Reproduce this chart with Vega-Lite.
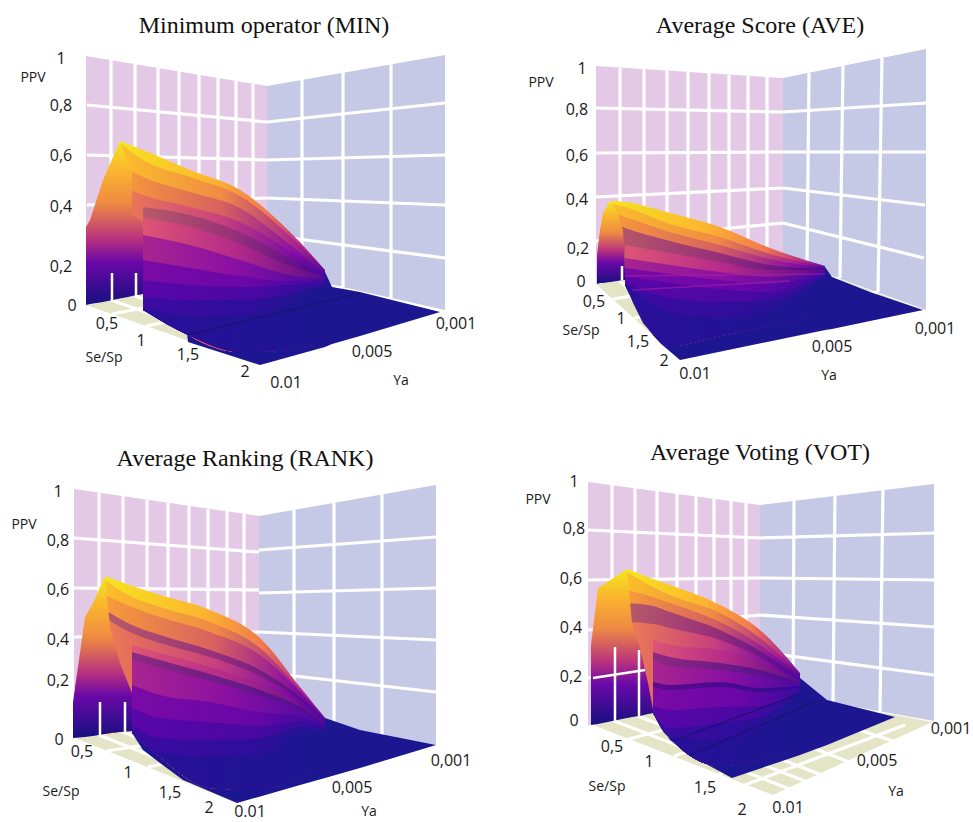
{"$schema":"https://vega.github.io/schema/vega-lite/v6.json","width":973,"height":822,"padding":0,"autosize":{"type":"fit","contains":"padding"},"background":"white","config":{"view":{"stroke":null}},
"datasets":{
"walls":[
{"s":"MIN-L","part":"pink","x":86,"y":56,"y2":305},{"s":"MIN-L","part":"pink","x":267,"y":86,"y2":270},
{"s":"MIN-R","part":"blue","x":267,"y":86,"y2":270},{"s":"MIN-R","part":"blue","x":445,"y":55,"y2":310},
{"s":"MIN-F","part":"floor","x":86,"y":305,"y2":305},{"s":"MIN-F","part":"floor","x":258,"y":272,"y2":365},{"s":"MIN-F","part":"floor","x":267,"y":270,"y2":363},{"s":"MIN-F","part":"floor","x":440,"y":312,"y2":312},
{"s":"AVE-L","part":"pink","x":596,"y":66,"y2":284},{"s":"AVE-L","part":"pink","x":783,"y":78,"y2":258},
{"s":"AVE-R","part":"blue","x":783,"y":78,"y2":258},{"s":"AVE-R","part":"blue","x":926,"y":49,"y2":310},
{"s":"AVE-F","part":"floor","x":596,"y":284,"y2":284},{"s":"AVE-F","part":"floor","x":680,"y":272,"y2":360},{"s":"AVE-F","part":"floor","x":783,"y":258,"y2":339},{"s":"AVE-F","part":"floor","x":923,"y":310,"y2":310},
{"s":"RANK-L","part":"pink","x":74,"y":489,"y2":738},{"s":"RANK-L","part":"pink","x":259,"y":516,"y2":715},
{"s":"RANK-R","part":"blue","x":259,"y":516,"y2":715},{"s":"RANK-R","part":"blue","x":436,"y":485,"y2":745},
{"s":"RANK-F","part":"floor","x":75,"y":738,"y2":738},{"s":"RANK-F","part":"floor","x":237,"y":718,"y2":803},{"s":"RANK-F","part":"floor","x":259,"y":715,"y2":797},{"s":"RANK-F","part":"floor","x":436,"y":745,"y2":745},
{"s":"VOT-L","part":"pink","x":588,"y":482,"y2":725},{"s":"VOT-L","part":"pink","x":760,"y":505,"y2":690},
{"s":"VOT-R","part":"blue","x":760,"y":505,"y2":690},{"s":"VOT-R","part":"blue","x":934,"y":484,"y2":721},
{"s":"VOT-F","part":"floor","x":593,"y":725,"y2":725},{"s":"VOT-F","part":"floor","x":760,"y":690,"y2":790},{"s":"VOT-F","part":"floor","x":773,"y":692,"y2":795},{"s":"VOT-F","part":"floor","x":932,"y":722,"y2":722}
],
"grid":[
{"x":87,"y":105,"x2":267,"y2":122},{"x":87,"y":155,"x2":267,"y2":160},{"x":87,"y":205,"x2":267,"y2":198},{"x":87,"y":255,"x2":267,"y2":235},
{"x":267,"y":122,"x2":445,"y2":103},{"x":267,"y":160,"x2":445,"y2":155},{"x":267,"y":198,"x2":445,"y2":205},{"x":267,"y":235,"x2":445,"y2":258},
{"x":111,"y":60,"x2":111,"y2":300},{"x":135,"y":64,"x2":135,"y2":296},{"x":158,"y":68,"x2":158,"y2":291},{"x":179,"y":71,"x2":179,"y2":287},{"x":199,"y":74,"x2":199,"y2":283},{"x":218,"y":78,"x2":218,"y2":280},{"x":236,"y":81,"x2":236,"y2":276},{"x":253,"y":84,"x2":253,"y2":273},
{"x":302,"y":79,"x2":302,"y2":278},{"x":343,"y":72,"x2":343,"y2":287},{"x":391,"y":64,"x2":391,"y2":298},
{"x":111,"y":300,"x2":283,"y2":360},{"x":135,"y":296,"x2":307,"y2":356},{"x":158,"y":291,"x2":330,"y2":351},
{"x":112,"y":314,"x2":302,"y2":278},{"x":146,"y":326,"x2":343,"y2":287},{"x":193,"y":342,"x2":391,"y2":298},
{"x":596,"y":108,"x2":783,"y2":112},{"x":596,"y":153,"x2":783,"y2":152},{"x":596,"y":197,"x2":783,"y2":188},{"x":596,"y":241,"x2":783,"y2":223},
{"x":783,"y":112,"x2":927,"y2":103},{"x":783,"y":152,"x2":926,"y2":152},{"x":783,"y":188,"x2":925,"y2":205},{"x":783,"y":223,"x2":924,"y2":258},
{"x":620,"y":68,"x2":620,"y2":281},{"x":644,"y":69,"x2":644,"y2":277},{"x":667,"y":71,"x2":667,"y2":274},{"x":688,"y":72,"x2":688,"y2":271},{"x":709,"y":73,"x2":709,"y2":268},{"x":729,"y":75,"x2":729,"y2":266},{"x":748,"y":76,"x2":748,"y2":263},{"x":767,"y":77,"x2":767,"y2":260},
{"x":809,"y":73,"x2":807,"y2":267},{"x":843,"y":66,"x2":840,"y2":278},{"x":882,"y":58,"x2":878,"y2":292},
{"x":620,"y":281,"x2":704,"y2":357},{"x":644,"y":277,"x2":728,"y2":353},
{"x":613,"y":299,"x2":807,"y2":267},{"x":634,"y":318,"x2":840,"y2":278},{"x":655,"y":337,"x2":878,"y2":292},
{"x":74,"y":538,"x2":259,"y2":552},{"x":74,"y":588,"x2":259,"y2":590},{"x":74,"y":637,"x2":259,"y2":632},{"x":74,"y":690,"x2":259,"y2":672},
{"x":259,"y":550,"x2":436,"y2":537},{"x":259,"y":593,"x2":436,"y2":588},{"x":259,"y":632,"x2":436,"y2":640},{"x":259,"y":672,"x2":436,"y2":692},
{"x":99,"y":493,"x2":99,"y2":735},{"x":123,"y":496,"x2":123,"y2":732},{"x":147,"y":500,"x2":147,"y2":729},{"x":168,"y":503,"x2":168,"y2":726},{"x":189,"y":506,"x2":189,"y2":724},{"x":208,"y":509,"x2":208,"y2":721},{"x":227,"y":511,"x2":227,"y2":719},{"x":244,"y":514,"x2":244,"y2":717},
{"x":294,"y":510,"x2":294,"y2":721},{"x":334,"y":503,"x2":334,"y2":728},{"x":382,"y":494,"x2":382,"y2":736},
{"x":99,"y":735,"x2":262,"y2":800},{"x":123,"y":732,"x2":286,"y2":797},
{"x":107,"y":751,"x2":294,"y2":721},{"x":148,"y":767,"x2":334,"y2":728},{"x":189,"y":783,"x2":382,"y2":736},
{"x":588,"y":530,"x2":760,"y2":538},{"x":588,"y":580,"x2":760,"y2":578},{"x":588,"y":630,"x2":760,"y2":615},{"x":588,"y":678,"x2":760,"y2":652},
{"x":760,"y":538,"x2":936,"y2":533},{"x":760,"y":578,"x2":936,"y2":580},{"x":760,"y":615,"x2":935,"y2":627},{"x":760,"y":652,"x2":934,"y2":675},
{"x":612,"y":485,"x2":612,"y2":720},{"x":635,"y":488,"x2":635,"y2":715},{"x":657,"y":491,"x2":657,"y2":711},{"x":677,"y":494,"x2":677,"y2":707},{"x":696,"y":496,"x2":696,"y2":703},{"x":714,"y":499,"x2":714,"y2":700},{"x":731,"y":501,"x2":731,"y2":696},{"x":746,"y":503,"x2":746,"y2":693},
{"x":794,"y":499,"x2":793,"y2":696},{"x":835,"y":492,"x2":833,"y2":703},{"x":883,"y":486,"x2":880,"y2":712},
{"x":612,"y":720,"x2":792,"y2":790},{"x":635,"y":715,"x2":815,"y2":785},{"x":657,"y":711,"x2":837,"y2":781},{"x":696,"y":703,"x2":870,"y2":770},{"x":746,"y":693,"x2":905,"y2":745},
{"x":629,"y":739,"x2":792,"y2":696},{"x":674,"y":756,"x2":833,"y2":703},{"x":719,"y":774,"x2":880,"y2":712},{"x":745,"y":785,"x2":905,"y2":725}
],
"navy":[
{"s":"MIN","x":143,"y":160,"y2":310},{"s":"MIN","x":163,"y":165,"y2":317},{"s":"MIN","x":187,"y":175,"y2":333},{"s":"MIN","x":188,"y":175,"y2":342},{"s":"MIN","x":260,"y":210,"y2":365},{"s":"MIN","x":325,"y":272,"y2":347},{"s":"MIN","x":332,"y":287,"y2":344},{"s":"MIN","x":360,"y":292,"y2":336},{"s":"MIN","x":440,"y":312,"y2":312},
{"s":"AVE","x":625,"y":210,"y2":285},{"s":"AVE","x":628,"y":212,"y2":290},{"s":"AVE","x":633,"y":214,"y2":303},{"s":"AVE","x":643,"y":216,"y2":323},{"s":"AVE","x":660,"y":218,"y2":343},{"s":"AVE","x":680,"y":222,"y2":360},{"s":"AVE","x":825,"y":267,"y2":330},{"s":"AVE","x":832,"y":277,"y2":329},{"s":"AVE","x":870,"y":292,"y2":321},{"s":"AVE","x":923,"y":310,"y2":310},
{"s":"RANK","x":132,"y":590,"y2":733},{"s":"RANK","x":143,"y":600,"y2":750},{"s":"RANK","x":160,"y":600,"y2":763},{"s":"RANK","x":183,"y":610,"y2":780},{"s":"RANK","x":237,"y":635,"y2":803},{"s":"RANK","x":300,"y":690,"y2":785},{"s":"RANK","x":325,"y":718,"y2":778},{"s":"RANK","x":360,"y":730,"y2":768},{"s":"RANK","x":436,"y":745,"y2":745},
{"s":"VOT","x":653,"y":590,"y2":713},{"s":"VOT","x":657,"y":590,"y2":720},{"s":"VOT","x":670,"y":590,"y2":740},{"s":"VOT","x":693,"y":595,"y2":757},{"s":"VOT","x":732,"y":612,"y2":778},{"s":"VOT","x":800,"y":678,"y2":755},{"s":"VOT","x":827,"y":700,"y2":745},{"s":"VOT","x":895,"y":717,"y2":717}
],
"faces":[
{"s":"MIN","x":86,"y":227,"y2":305},{"s":"MIN","x":90,"y":220,"y2":304},{"s":"MIN","x":103,"y":180,"y2":302},{"s":"MIN","x":120,"y":141,"y2":298.5},{"s":"MIN","x":128,"y":165,"y2":297},{"s":"MIN","x":132,"y":165,"y2":296},{"s":"MIN","x":132.1,"y":215,"y2":296},{"s":"MIN","x":143,"y":222,"y2":294},
{"s":"AVE","x":597,"y":255,"y2":284},{"s":"AVE","x":600,"y":230,"y2":283},{"s":"AVE","x":603,"y":213,"y2":283},{"s":"AVE","x":610,"y":201,"y2":282},{"s":"AVE","x":617,"y":212,"y2":281},{"s":"AVE","x":623,"y":230,"y2":280},{"s":"AVE","x":625,"y":272,"y2":280},
{"s":"RANK","x":73,"y":702,"y2":738},{"s":"RANK","x":85,"y":617,"y2":737},{"s":"RANK","x":93,"y":603,"y2":736},{"s":"RANK","x":105,"y":576,"y2":734},{"s":"RANK","x":110,"y":627,"y2":733},{"s":"RANK","x":120,"y":663,"y2":732},{"s":"RANK","x":132,"y":693,"y2":731},
{"s":"VOT","x":591,"y":645,"y2":725},{"s":"VOT","x":598,"y":588,"y2":724},{"s":"VOT","x":627,"y":569,"y2":718},{"s":"VOT","x":632,"y":623,"y2":717},{"s":"VOT","x":640,"y":647,"y2":716},{"s":"VOT","x":648,"y":683,"y2":714},{"s":"VOT","x":653,"y":710,"y2":713}
],
"bands":[
{"s":"M1","c":"a","x":120,"y":141,"y2":298},{"s":"M1","c":"a","x":143,"y":150,"y2":294},{"s":"M1","c":"a","x":190,"y":170,"y2":336},{"s":"M1","c":"a","x":240,"y":190,"y2":352},{"s":"M1","c":"a","x":290,"y":232,"y2":350},{"s":"M1","c":"a","x":325,"y":270,"y2":340},
{"s":"M2","c":"b","x":120,"y":143,"y2":298},{"s":"M2","c":"b","x":143,"y":160,"y2":294},{"s":"M2","c":"b","x":190,"y":177,"y2":336},{"s":"M2","c":"b","x":240,"y":196,"y2":352},{"s":"M2","c":"b","x":290,"y":236,"y2":350},{"s":"M2","c":"b","x":325,"y":271,"y2":340},
{"s":"M3","c":"c","x":120,"y":165,"y2":298},{"s":"M3","c":"c","x":143,"y":177,"y2":294},{"s":"M3","c":"c","x":190,"y":192,"y2":336},{"s":"M3","c":"c","x":240,"y":208,"y2":352},{"s":"M3","c":"c","x":290,"y":245,"y2":350},{"s":"M3","c":"c","x":325,"y":273,"y2":340},
{"s":"M4","c":"d","x":120,"y":185,"y2":298},{"s":"M4","c":"d","x":143,"y":195,"y2":294},{"s":"M4","c":"d","x":190,"y":207,"y2":336},{"s":"M4","c":"d","x":240,"y":222,"y2":352},{"s":"M4","c":"d","x":290,"y":251,"y2":350},{"s":"M4","c":"d","x":325,"y":274,"y2":340},
{"s":"M5","c":"E","x":143,"y":207,"y2":310},{"s":"M5","c":"E","x":190,"y":215,"y2":336},{"s":"M5","c":"E","x":240,"y":232,"y2":352},{"s":"M5","c":"E","x":290,"y":258,"y2":350},{"s":"M5","c":"E","x":325,"y":275,"y2":340},
{"s":"M6","c":"f","x":143,"y":217,"y2":310},{"s":"M6","c":"f","x":190,"y":227,"y2":336},{"s":"M6","c":"f","x":240,"y":244,"y2":352},{"s":"M6","c":"f","x":290,"y":266,"y2":350},{"s":"M6","c":"f","x":325,"y":277,"y2":340},
{"s":"M7","c":"g","x":143,"y":235,"y2":310},{"s":"M7","c":"g","x":190,"y":245,"y2":336},{"s":"M7","c":"g","x":240,"y":260,"y2":352},{"s":"M7","c":"g","x":290,"y":275,"y2":350},{"s":"M7","c":"g","x":325,"y":279,"y2":340},
{"s":"M8","c":"h","x":143,"y":260,"y2":310},{"s":"M8","c":"h","x":190,"y":268,"y2":336},{"s":"M8","c":"h","x":240,"y":276,"y2":352},{"s":"M8","c":"h","x":290,"y":281,"y2":350},{"s":"M8","c":"h","x":325,"y":281,"y2":340},
{"s":"M9","c":"i","x":143,"y":280,"y2":310},{"s":"M9","c":"i","x":190,"y":285,"y2":336},{"s":"M9","c":"i","x":240,"y":287,"y2":352},{"s":"M9","c":"i","x":290,"y":285,"y2":350},{"s":"M9","c":"i","x":325,"y":283,"y2":340},
{"s":"M10","c":"j","x":143,"y":297,"y2":310},{"s":"M10","c":"j","x":190,"y":300,"y2":336},{"s":"M10","c":"j","x":240,"y":300,"y2":352},{"s":"M10","c":"j","x":290,"y":294,"y2":350},{"s":"M10","c":"j","x":325,"y":285,"y2":340},
{"s":"M11","c":"k","x":143,"y":307,"y2":310},{"s":"M11","c":"k","x":190,"y":316,"y2":336},{"s":"M11","c":"k","x":240,"y":316,"y2":352},{"s":"M11","c":"k","x":290,"y":304,"y2":350},{"s":"M11","c":"k","x":325,"y":287,"y2":340},

{"s":"A1","c":"a","x":610,"y":201,"y2":282},{"s":"A1","c":"a","x":625,"y":202,"y2":278},{"s":"A1","c":"a","x":670,"y":213,"y2":346},{"s":"A1","c":"a","x":720,"y":227,"y2":336},{"s":"A1","c":"a","x":770,"y":248,"y2":326},{"s":"A1","c":"a","x":825,"y":266,"y2":314},
{"s":"A2","c":"b","x":610,"y":203,"y2":282},{"s":"A2","c":"b","x":625,"y":207,"y2":278},{"s":"A2","c":"b","x":670,"y":224,"y2":346},{"s":"A2","c":"b","x":720,"y":237,"y2":336},{"s":"A2","c":"b","x":770,"y":254,"y2":326},{"s":"A2","c":"b","x":825,"y":267,"y2":314},
{"s":"A3","c":"c","x":610,"y":212,"y2":282},{"s":"A3","c":"c","x":625,"y":217,"y2":278},{"s":"A3","c":"c","x":670,"y":232,"y2":346},{"s":"A3","c":"c","x":720,"y":245,"y2":336},{"s":"A3","c":"c","x":770,"y":259,"y2":326},{"s":"A3","c":"c","x":825,"y":268,"y2":314},
{"s":"A4","c":"e","x":610,"y":222,"y2":282},{"s":"A4","c":"e","x":625,"y":228,"y2":278},{"s":"A4","c":"e","x":670,"y":241,"y2":346},{"s":"A4","c":"e","x":720,"y":253,"y2":336},{"s":"A4","c":"e","x":770,"y":265,"y2":326},{"s":"A4","c":"e","x":825,"y":269,"y2":314},
{"s":"A5","c":"f","x":625,"y":245,"y2":285},{"s":"A5","c":"f","x":670,"y":253,"y2":346},{"s":"A5","c":"f","x":720,"y":262,"y2":336},{"s":"A5","c":"f","x":770,"y":270,"y2":326},{"s":"A5","c":"f","x":825,"y":270,"y2":314},
{"s":"A6","c":"g","x":625,"y":258,"y2":285},{"s":"A6","c":"g","x":670,"y":265,"y2":346},{"s":"A6","c":"g","x":720,"y":272,"y2":336},{"s":"A6","c":"g","x":770,"y":277,"y2":326},{"s":"A6","c":"g","x":825,"y":271,"y2":314},
{"s":"A7","c":"h","x":625,"y":268,"y2":285},{"s":"A7","c":"h","x":670,"y":274,"y2":346},{"s":"A7","c":"h","x":720,"y":280,"y2":336},{"s":"A7","c":"h","x":770,"y":284,"y2":326},{"s":"A7","c":"h","x":825,"y":272,"y2":314},
{"s":"A8","c":"i","x":625,"y":276,"y2":285},{"s":"A8","c":"i","x":670,"y":283,"y2":346},{"s":"A8","c":"i","x":720,"y":289,"y2":336},{"s":"A8","c":"i","x":770,"y":292,"y2":326},{"s":"A8","c":"i","x":825,"y":274,"y2":314},
{"s":"A9","c":"j","x":625,"y":282,"y2":285},{"s":"A9","c":"j","x":670,"y":298,"y2":346},{"s":"A9","c":"j","x":720,"y":302,"y2":336},{"s":"A9","c":"j","x":770,"y":300,"y2":326},{"s":"A9","c":"j","x":825,"y":276,"y2":314},
{"s":"A10","c":"k","x":625,"y":284,"y2":285},{"s":"A10","c":"k","x":670,"y":312,"y2":346},{"s":"A10","c":"k","x":720,"y":318,"y2":336},{"s":"A10","c":"k","x":770,"y":310,"y2":326},{"s":"A10","c":"k","x":825,"y":278,"y2":314},

{"s":"R1","c":"a","x":105,"y":576,"y2":734},{"s":"R1","c":"a","x":132,"y":586,"y2":731},{"s":"R1","c":"a","x":160,"y":595,"y2":757},{"s":"R1","c":"a","x":210,"y":610,"y2":788},{"s":"R1","c":"a","x":260,"y":638,"y2":790},{"s":"R1","c":"a","x":300,"y":687,"y2":778},{"s":"R1","c":"a","x":325,"y":718,"y2":770},
{"s":"R2","c":"b","x":105,"y":580,"y2":734},{"s":"R2","c":"b","x":132,"y":597,"y2":731},{"s":"R2","c":"b","x":160,"y":607,"y2":757},{"s":"R2","c":"b","x":210,"y":622,"y2":788},{"s":"R2","c":"b","x":260,"y":648,"y2":790},{"s":"R2","c":"b","x":300,"y":690,"y2":778},{"s":"R2","c":"b","x":325,"y":719,"y2":770},
{"s":"R3","c":"c","x":105,"y":595,"y2":734},{"s":"R3","c":"c","x":132,"y":607,"y2":731},{"s":"R3","c":"c","x":160,"y":617,"y2":757},{"s":"R3","c":"c","x":210,"y":632,"y2":788},{"s":"R3","c":"c","x":260,"y":655,"y2":790},{"s":"R3","c":"c","x":300,"y":692,"y2":778},{"s":"R3","c":"c","x":325,"y":720,"y2":770},
{"s":"R4","c":"e","x":105,"y":610,"y2":734},{"s":"R4","c":"e","x":132,"y":625,"y2":731},{"s":"R4","c":"e","x":160,"y":635,"y2":757},{"s":"R4","c":"e","x":210,"y":650,"y2":788},{"s":"R4","c":"e","x":260,"y":670,"y2":790},{"s":"R4","c":"e","x":300,"y":697,"y2":778},{"s":"R4","c":"e","x":325,"y":721,"y2":770},
{"s":"R5","c":"d","x":105,"y":618,"y2":734},{"s":"R5","c":"d","x":132,"y":633,"y2":731},{"s":"R5","c":"d","x":160,"y":643,"y2":757},{"s":"R5","c":"d","x":210,"y":657,"y2":788},{"s":"R5","c":"d","x":260,"y":676,"y2":790},{"s":"R5","c":"d","x":300,"y":700,"y2":778},{"s":"R5","c":"d","x":325,"y":722,"y2":770},
{"s":"R6","c":"f","x":132,"y":645,"y2":733},{"s":"R6","c":"f","x":160,"y":653,"y2":757},{"s":"R6","c":"f","x":210,"y":667,"y2":788},{"s":"R6","c":"f","x":260,"y":684,"y2":790},{"s":"R6","c":"f","x":300,"y":704,"y2":778},{"s":"R6","c":"f","x":325,"y":723,"y2":770},
{"s":"R7","c":"m","x":132,"y":652,"y2":733},{"s":"R7","c":"m","x":160,"y":660,"y2":757},{"s":"R7","c":"m","x":210,"y":674,"y2":788},{"s":"R7","c":"m","x":260,"y":690,"y2":790},{"s":"R7","c":"m","x":300,"y":707,"y2":778},{"s":"R7","c":"m","x":325,"y":724,"y2":770},
{"s":"R8","c":"g","x":132,"y":660,"y2":733},{"s":"R8","c":"g","x":160,"y":668,"y2":757},{"s":"R8","c":"g","x":210,"y":681,"y2":788},{"s":"R8","c":"g","x":260,"y":696,"y2":790},{"s":"R8","c":"g","x":300,"y":710,"y2":778},{"s":"R8","c":"g","x":325,"y":725,"y2":770},
{"s":"R9","c":"h","x":132,"y":685,"y2":733},{"s":"R9","c":"h","x":160,"y":695,"y2":757},{"s":"R9","c":"h","x":210,"y":702,"y2":788},{"s":"R9","c":"h","x":260,"y":712,"y2":790},{"s":"R9","c":"h","x":300,"y":716,"y2":778},{"s":"R9","c":"h","x":325,"y":727,"y2":770},
{"s":"R10","c":"i","x":132,"y":708,"y2":733},{"s":"R10","c":"i","x":160,"y":718,"y2":757},{"s":"R10","c":"i","x":210,"y":722,"y2":788},{"s":"R10","c":"i","x":260,"y":726,"y2":790},{"s":"R10","c":"i","x":300,"y":722,"y2":778},{"s":"R10","c":"i","x":325,"y":729,"y2":770},
{"s":"R11","c":"j","x":132,"y":725,"y2":733},{"s":"R11","c":"j","x":160,"y":738,"y2":757},{"s":"R11","c":"j","x":210,"y":740,"y2":788},{"s":"R11","c":"j","x":260,"y":738,"y2":790},{"s":"R11","c":"j","x":300,"y":728,"y2":778},{"s":"R11","c":"j","x":325,"y":731,"y2":770},
{"s":"R12","c":"k","x":132,"y":731,"y2":733},{"s":"R12","c":"k","x":160,"y":752,"y2":757},{"s":"R12","c":"k","x":210,"y":757,"y2":788},{"s":"R12","c":"k","x":260,"y":755,"y2":790},{"s":"R12","c":"k","x":300,"y":735,"y2":778},{"s":"R12","c":"k","x":325,"y":733,"y2":770},

{"s":"V1","c":"a","x":627,"y":569,"y2":718},{"s":"V1","c":"a","x":653,"y":579,"y2":713},{"s":"V1","c":"a","x":670,"y":585,"y2":738},{"s":"V1","c":"a","x":720,"y":605,"y2":766},{"s":"V1","c":"a","x":760,"y":630,"y2":760},{"s":"V1","c":"a","x":800,"y":673,"y2":748},
{"s":"V2","c":"b","x":627,"y":572,"y2":718},{"s":"V2","c":"b","x":653,"y":587,"y2":713},{"s":"V2","c":"b","x":670,"y":595,"y2":738},{"s":"V2","c":"b","x":720,"y":613,"y2":766},{"s":"V2","c":"b","x":760,"y":638,"y2":760},{"s":"V2","c":"b","x":800,"y":675,"y2":748},
{"s":"V3","c":"c","x":627,"y":590,"y2":718},{"s":"V3","c":"c","x":653,"y":597,"y2":713},{"s":"V3","c":"c","x":670,"y":603,"y2":738},{"s":"V3","c":"c","x":720,"y":622,"y2":766},{"s":"V3","c":"c","x":760,"y":645,"y2":760},{"s":"V3","c":"c","x":800,"y":677,"y2":748},
{"s":"V4","c":"e","x":627,"y":603,"y2":718},{"s":"V4","c":"e","x":653,"y":606,"y2":713},{"s":"V4","c":"e","x":670,"y":612,"y2":738},{"s":"V4","c":"e","x":720,"y":630,"y2":766},{"s":"V4","c":"e","x":760,"y":651,"y2":760},{"s":"V4","c":"e","x":800,"y":679,"y2":748},
{"s":"V5","c":"d","x":627,"y":622,"y2":718},{"s":"V5","c":"d","x":653,"y":624,"y2":713},{"s":"V5","c":"d","x":670,"y":628,"y2":738},{"s":"V5","c":"d","x":720,"y":640,"y2":766},{"s":"V5","c":"d","x":760,"y":657,"y2":760},{"s":"V5","c":"d","x":800,"y":680,"y2":748},
{"s":"V6","c":"f","x":653,"y":640,"y2":713},{"s":"V6","c":"f","x":670,"y":645,"y2":738},{"s":"V6","c":"f","x":720,"y":650,"y2":766},{"s":"V6","c":"f","x":760,"y":662,"y2":760},{"s":"V6","c":"f","x":800,"y":681,"y2":748},
{"s":"V7","c":"m","x":653,"y":652,"y2":713},{"s":"V7","c":"m","x":670,"y":657,"y2":738},{"s":"V7","c":"m","x":720,"y":663,"y2":766},{"s":"V7","c":"m","x":760,"y":670,"y2":760},{"s":"V7","c":"m","x":800,"y":683,"y2":748},
{"s":"V8","c":"g","x":653,"y":660,"y2":713},{"s":"V8","c":"g","x":670,"y":666,"y2":738},{"s":"V8","c":"g","x":720,"y":670,"y2":766},{"s":"V8","c":"g","x":760,"y":676,"y2":760},{"s":"V8","c":"g","x":800,"y":684,"y2":748},
{"s":"V9","c":"n","x":653,"y":682,"y2":713},{"s":"V9","c":"n","x":670,"y":685,"y2":738},{"s":"V9","c":"n","x":720,"y":682,"y2":766},{"s":"V9","c":"n","x":760,"y":688,"y2":760},{"s":"V9","c":"n","x":800,"y":686,"y2":748},
{"s":"V10","c":"h","x":653,"y":687,"y2":713},{"s":"V10","c":"h","x":670,"y":690,"y2":738},{"s":"V10","c":"h","x":720,"y":687,"y2":766},{"s":"V10","c":"h","x":760,"y":692,"y2":760},{"s":"V10","c":"h","x":800,"y":687,"y2":748},
{"s":"V11","c":"i","x":653,"y":705,"y2":713},{"s":"V11","c":"i","x":670,"y":710,"y2":738},{"s":"V11","c":"i","x":720,"y":707,"y2":766},{"s":"V11","c":"i","x":760,"y":706,"y2":760},{"s":"V11","c":"i","x":800,"y":689,"y2":748},
{"s":"V12","c":"j","x":653,"y":712,"y2":713},{"s":"V12","c":"j","x":670,"y":728,"y2":738},{"s":"V12","c":"j","x":720,"y":723,"y2":766},{"s":"V12","c":"j","x":760,"y":717,"y2":760},{"s":"V12","c":"j","x":800,"y":692,"y2":748},
{"s":"V13","c":"k","x":653,"y":713,"y2":713},{"s":"V13","c":"k","x":670,"y":737,"y2":738},{"s":"V13","c":"k","x":720,"y":740,"y2":766},{"s":"V13","c":"k","x":760,"y":730,"y2":760},{"s":"V13","c":"k","x":800,"y":697,"y2":748}
],
"creases":[
{"x":188,"y":335,"x2":360,"y2":293},{"x":673,"y":741,"x2":800,"y2":694},{"x":690,"y":755,"x2":815,"y2":702}
],
"glints":[
{"x":625,"y":276,"x2":825,"y2":274},{"x":632,"y":290,"x2":790,"y2":281}
],
"gaps":[
{"x":112,"y":273,"x2":112,"y2":302},{"x":136,"y":273,"x2":136,"y2":297},{"x":622,"y":266,"x2":622,"y2":280},{"x":100,"y":702,"x2":100,"y2":736},{"x":125,"y":702,"x2":125,"y2":732},{"x":615,"y":647,"x2":615,"y2":722},{"x":639,"y":650,"x2":639,"y2":716},{"x":593,"y":678,"x2":645,"y2":670}
],
"labels":[
{"t":"1","x":61,"y":59},{"t":"0,8","x":61,"y":106},{"t":"0,6","x":61,"y":156},{"t":"0,4","x":61,"y":207},{"t":"0,2","x":61,"y":267},{"t":"0","x":72,"y":306},{"t":"0,5","x":107,"y":324},{"t":"1","x":141,"y":341},{"t":"1,5","x":188,"y":355},{"t":"2","x":245,"y":372},{"t":"0.01","x":286,"y":383},{"t":"0,005","x":372,"y":352},{"t":"0,001","x":456,"y":324},
{"t":"1","x":582,"y":69},{"t":"0,8","x":577,"y":110},{"t":"0,6","x":577,"y":156},{"t":"0,4","x":577,"y":200},{"t":"0,2","x":578,"y":249},{"t":"0","x":581,"y":282},{"t":"0,5","x":594,"y":302},{"t":"1","x":621,"y":319},{"t":"1,5","x":638,"y":342},{"t":"2","x":664,"y":361},{"t":"0.01","x":695,"y":374},{"t":"0,005","x":832,"y":347},{"t":"0,001","x":935,"y":329},
{"t":"1","x":58,"y":492},{"t":"0,8","x":58,"y":541},{"t":"0,6","x":58,"y":590},{"t":"0,4","x":58,"y":640},{"t":"0,2","x":58,"y":681},{"t":"0","x":59,"y":740},{"t":"0,5","x":82,"y":752},{"t":"1","x":128,"y":773},{"t":"1,5","x":170,"y":793},{"t":"2","x":209,"y":808},{"t":"0.01","x":250,"y":812},{"t":"0,005","x":352,"y":788},{"t":"0,001","x":451,"y":761},
{"t":"1","x":574,"y":482},{"t":"0,8","x":574,"y":529},{"t":"0,6","x":571,"y":579},{"t":"0,4","x":571,"y":628},{"t":"0,2","x":571,"y":677},{"t":"0","x":574,"y":721},{"t":"0,5","x":612,"y":747},{"t":"1","x":649,"y":762},{"t":"1,5","x":705,"y":788},{"t":"2","x":742,"y":810},{"t":"0.01","x":788,"y":808},{"t":"0,005","x":877,"y":761},{"t":"0,001","x":951,"y":729}
],
"names":[
{"t":"PPV","x":33,"y":78},{"t":"Se/Sp","x":104,"y":358},{"t":"Ya","x":401,"y":381},
{"t":"PPV","x":541,"y":83},{"t":"Se/Sp","x":581,"y":331},{"t":"Ya","x":829,"y":376},
{"t":"PPV","x":24,"y":525},{"t":"Se/Sp","x":61,"y":792},{"t":"Ya","x":369,"y":812},
{"t":"PPV","x":538,"y":500},{"t":"Se/Sp","x":607,"y":787},{"t":"Ya","x":896,"y":792}
],
"titles":[
{"t":"Minimum operator (MIN)","x":264,"y":26},{"t":"Average Score (AVE)","x":760,"y":26},{"t":"Average Ranking (RANK)","x":245,"y":459},{"t":"Average Voting (VOT)","x":760,"y":453}
]
},
"encoding":{
"x":{"field":"x","type":"quantitative","scale":{"domain":[0,973],"nice":false,"zero":false},"axis":null},
"y":{"field":"y","type":"quantitative","scale":{"domain":[822,0],"nice":false,"zero":false},"axis":null,"stack":null}
},
"layer":[
{"data":{"name":"walls"},"mark":{"type":"area","orient":"vertical"},"encoding":{"y2":{"field":"y2"},"detail":{"field":"s"},"color":{"field":"part","type":"nominal","legend":null,"scale":{"domain":["pink","blue","floor"],"range":["#e4c9e6","#c6c9e6","#e4e5c6"]}}}},
{"data":{"name":"grid"},"mark":{"type":"rule","color":"white","strokeWidth":3.2},"encoding":{"x2":{"field":"x2"},"y2":{"field":"y2"}}},
{"data":{"name":"navy"},"mark":{"type":"area","orient":"vertical","color":"#1c1690"},"encoding":{"y2":{"field":"y2"},"detail":{"field":"s"}}},
{"data":{"name":"bands"},"transform":[{"filter":"datum.c==='a'"}],"mark":{"type":"area","orient":"vertical","interpolate":"monotone","color":{"gradient":"linear","x1":0,"y1":0,"x2":1,"y2":0,"stops":[{"offset":0,"color":"#f4e41e"},{"offset":0.45,"color":"#fdb42f"},{"offset":0.72,"color":"#f0784f"},{"offset":0.9,"color":"#b52a8a"},{"offset":1,"color":"#6a06a8"}]}},"encoding":{"y2":{"field":"y2"},"detail":{"field":"s"}}},
{"data":{"name":"bands"},"transform":[{"filter":"datum.c==='b'"}],"mark":{"type":"area","orient":"vertical","interpolate":"monotone","color":{"gradient":"linear","x1":0,"y1":0,"x2":1,"y2":0,"stops":[{"offset":0,"color":"#fbbf2a"},{"offset":0.5,"color":"#f08a45"},{"offset":0.85,"color":"#a8258f"},{"offset":1,"color":"#5a0b8c"}]}},"encoding":{"y2":{"field":"y2"},"detail":{"field":"s"}}},
{"data":{"name":"bands"},"transform":[{"filter":"datum.c==='c'"}],"mark":{"type":"area","orient":"vertical","interpolate":"monotone","color":{"gradient":"linear","x1":0,"y1":0,"x2":1,"y2":0,"stops":[{"offset":0,"color":"#f89c3a"},{"offset":0.5,"color":"#d8605f"},{"offset":0.85,"color":"#8a10a2"},{"offset":1,"color":"#4a08a2"}]}},"encoding":{"y2":{"field":"y2"},"detail":{"field":"s"}}},
{"data":{"name":"bands"},"transform":[{"filter":"datum.c==='e'"}],"mark":{"type":"area","orient":"vertical","interpolate":"monotone","color":{"gradient":"linear","x1":0,"y1":0,"x2":1,"y2":0,"stops":[{"offset":0,"color":"#b85a68"},{"offset":0.5,"color":"#98307a"},{"offset":0.9,"color":"#5a0b8c"},{"offset":1,"color":"#4a08a2"}]}},"encoding":{"y2":{"field":"y2"},"detail":{"field":"s"}}},
{"data":{"name":"bands"},"transform":[{"filter":"datum.c==='d'"}],"mark":{"type":"area","orient":"vertical","interpolate":"monotone","color":{"gradient":"linear","x1":0,"y1":0,"x2":1,"y2":0,"stops":[{"offset":0,"color":"#ec7d52"},{"offset":0.5,"color":"#c8407e"},{"offset":0.85,"color":"#7a0aa5"},{"offset":1,"color":"#4a08a2"}]}},"encoding":{"y2":{"field":"y2"},"detail":{"field":"s"}}},
{"data":{"name":"bands"},"transform":[{"filter":"datum.c==='E'"}],"mark":{"type":"area","orient":"vertical","interpolate":"monotone","color":{"gradient":"linear","x1":0,"y1":0,"x2":1,"y2":0,"stops":[{"offset":0,"color":"#b85a68"},{"offset":0.5,"color":"#98307a"},{"offset":0.9,"color":"#5a0b8c"},{"offset":1,"color":"#4a08a2"}]}},"encoding":{"y2":{"field":"y2"},"detail":{"field":"s"}}},
{"data":{"name":"bands"},"transform":[{"filter":"datum.c==='f'"}],"mark":{"type":"area","orient":"vertical","interpolate":"monotone","color":{"gradient":"linear","x1":0,"y1":0,"x2":1,"y2":0,"stops":[{"offset":0,"color":"#dd5575"},{"offset":0.5,"color":"#b52a8a"},{"offset":1,"color":"#5a0b8c"}]}},"encoding":{"y2":{"field":"y2"},"detail":{"field":"s"}}},
{"data":{"name":"bands"},"transform":[{"filter":"datum.c==='m'"}],"mark":{"type":"area","orient":"vertical","interpolate":"monotone","color":{"gradient":"linear","x1":0,"y1":0,"x2":1,"y2":0,"stops":[{"offset":0,"color":"#8e2a80"},{"offset":1,"color":"#4a0a90"}]}},"encoding":{"y2":{"field":"y2"},"detail":{"field":"s"}}},
{"data":{"name":"bands"},"transform":[{"filter":"datum.c==='g'"}],"mark":{"type":"area","orient":"vertical","interpolate":"monotone","color":{"gradient":"linear","x1":0,"y1":0,"x2":1,"y2":0,"stops":[{"offset":0,"color":"#a8258f"},{"offset":0.5,"color":"#8a10a2"},{"offset":1,"color":"#4a08a2"}]}},"encoding":{"y2":{"field":"y2"},"detail":{"field":"s"}}},
{"data":{"name":"bands"},"transform":[{"filter":"datum.c==='n'"}],"mark":{"type":"area","orient":"vertical","interpolate":"monotone","color":{"gradient":"linear","x1":0,"y1":0,"x2":1,"y2":0,"stops":[{"offset":0,"color":"#5e0b8c"},{"offset":1,"color":"#300a90"}]}},"encoding":{"y2":{"field":"y2"},"detail":{"field":"s"}}},
{"data":{"name":"bands"},"transform":[{"filter":"datum.c==='h'"}],"mark":{"type":"area","orient":"vertical","interpolate":"monotone","color":{"gradient":"linear","x1":0,"y1":0,"x2":1,"y2":0,"stops":[{"offset":0,"color":"#7a0aa5"},{"offset":0.6,"color":"#6a06a8"},{"offset":1,"color":"#3a0a9e"}]}},"encoding":{"y2":{"field":"y2"},"detail":{"field":"s"}}},
{"data":{"name":"bands"},"transform":[{"filter":"datum.c==='i'"}],"mark":{"type":"area","orient":"vertical","interpolate":"monotone","color":{"gradient":"linear","x1":0,"y1":0,"x2":1,"y2":0,"stops":[{"offset":0,"color":"#5a06a8"},{"offset":0.6,"color":"#4a08a2"},{"offset":1,"color":"#2e0e9a"}]}},"encoding":{"y2":{"field":"y2"},"detail":{"field":"s"}}},
{"data":{"name":"bands"},"transform":[{"filter":"datum.c==='j'"}],"mark":{"type":"area","orient":"vertical","interpolate":"monotone","color":{"gradient":"linear","x1":0,"y1":0,"x2":1,"y2":0,"stops":[{"offset":0,"color":"#3e0aa2"},{"offset":0.6,"color":"#2e0e9a"},{"offset":1,"color":"#1e1690"}]}},"encoding":{"y2":{"field":"y2"},"detail":{"field":"s"}}},
{"data":{"name":"bands"},"transform":[{"filter":"datum.c==='k'"}],"mark":{"type":"area","orient":"vertical","interpolate":"monotone","color":{"gradient":"linear","x1":0,"y1":0,"x2":1,"y2":0,"stops":[{"offset":0,"color":"#2a0f9a"},{"offset":1,"color":"#1c1690"}]}},"encoding":{"y2":{"field":"y2"},"detail":{"field":"s"}}},
{"data":{"name":"faces"},"mark":{"type":"area","orient":"vertical","color":{"gradient":"linear","x1":0,"y1":0,"x2":0,"y2":1,"stops":[{"offset":0,"color":"#f0e81c"},{"offset":0.18,"color":"#fbb52e"},{"offset":0.38,"color":"#ee8a42"},{"offset":0.6,"color":"#b8307f"},{"offset":0.74,"color":"#6a08a8"},{"offset":1,"color":"#16107f"}]}},"encoding":{"y2":{"field":"y2"},"detail":{"field":"s"}}},
{"data":{"name":"creases"},"mark":{"type":"rule","color":"#17126e","strokeWidth":1.5,"opacity":0.7},"encoding":{"x2":{"field":"x2"},"y2":{"field":"y2"}}},
{"data":{"name":"glints"},"mark":{"type":"rule","color":"#a81fa8","strokeWidth":1.5,"opacity":0.6},"encoding":{"x2":{"field":"x2"},"y2":{"field":"y2"}}},
{"data":{"name":"gaps"},"mark":{"type":"rule","color":"white","strokeWidth":2.5},"encoding":{"x2":{"field":"x2"},"y2":{"field":"y2"}}},
{"data":{"name":"labels"},"mark":{"type":"text","font":"Open Sans","fontSize":16,"color":"#1a1a1a"},"encoding":{"text":{"field":"t"}}},
{"data":{"name":"names"},"mark":{"type":"text","font":"Open Sans","fontSize":14,"color":"#1a1a1a"},"encoding":{"text":{"field":"t"}}},
{"data":{"name":"titles"},"mark":{"type":"text","font":"Liberation Serif","fontSize":24,"color":"#111111"},"encoding":{"text":{"field":"t"}}}
]
}
